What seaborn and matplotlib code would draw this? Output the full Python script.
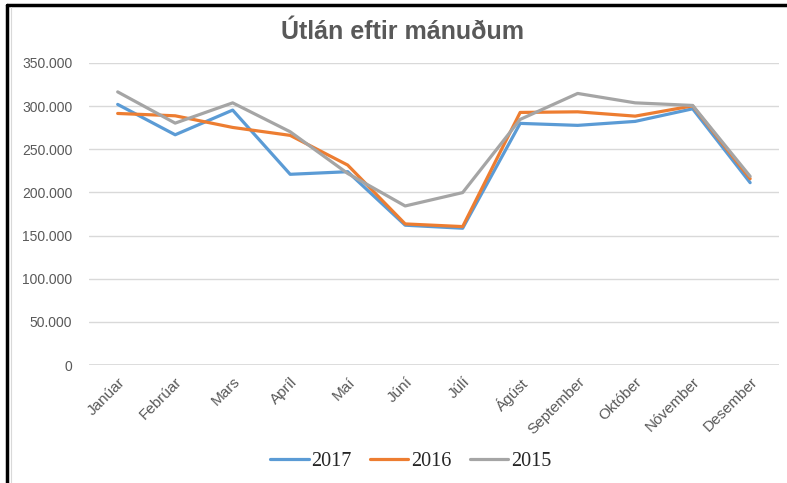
import matplotlib.pyplot as plt
import matplotlib.ticker as mticker
from matplotlib.lines import Line2D
import seaborn as sns
import pandas as pd

manudir = ["Janúar", "Febrúar", "Mars", "Apríl", "Maí", "Júní", "Júlí",
           "Ágúst", "September", "Október", "Nóvember", "Desember"]
ar2017 = [302000, 266800, 295400, 221000, 224000, 162000, 158500,
          280000, 277700, 282300, 296900, 211300]
ar2016 = [291500, 288800, 275300, 266100, 231700, 163500, 160400,
          292700, 293400, 288400, 300300, 215900]
ar2015 = [316500, 280300, 303800, 270300, 222000, 184300, 199800,
          284600, 314700, 303800, 300800, 218600]
ar = ["2017", "2016", "2015"]
litir = ["#5B9BD5", "#ED7D31", "#A5A5A5"]

df = pd.DataFrame({
    "manudur": manudir * 3,
    "nr": list(range(12)) * 3,
    "utlan": ar2017 + ar2016 + ar2015,
    "ar": ["2017"] * 12 + ["2016"] * 12 + ["2015"] * 12,
})

sns.set_theme(style="white")
plt.rcParams["font.family"] = ["Liberation Sans", "DejaVu Sans"]
fig = plt.figure(figsize=(7.87, 4.83), dpi=100)
ax = fig.add_axes([0.113, 0.2443, 0.8767, 0.6253])

sns.lineplot(data=df, x="nr", y="utlan", hue="ar", hue_order=ar,
             palette=litir, linewidth=2.3, ax=ax, legend=False)

ax.set_xlim(-0.5, 11.5)
ax.set_ylim(0, 350000)
ax.set_yticks(range(0, 350001, 50000))
ax.yaxis.set_major_formatter(mticker.FuncFormatter(
    lambda v, p: "0" if v == 0 else f"{int(v):,}".replace(",", ".")))
ax.set_xticks(range(12))
ax.set_xticklabels(manudir, rotation=45, ha="right", rotation_mode="anchor")
ax.tick_params(axis="both", colors="#595959", labelsize=10, length=0)
ax.tick_params(axis="x", labelsize=11, pad=7)
ax.tick_params(axis="y", pad=12)
ax.grid(axis="y", color="#D9D9D9", linewidth=1)
ax.set_xlabel("")
ax.set_ylabel("")
for s in ax.spines.values():
    s.set_visible(False)
ax.axhline(0, color="#D9D9D9", linewidth=1.2, zorder=0)

fig.text(0.512, 0.934, "Útlán eftir mánuðum", ha="center", va="center",
         fontsize=18, fontweight="bold", color="#595959")

handles = [Line2D([], [], color=c, linewidth=2.3) for c in litir]
fig.legend(handles, ar, loc="center", bbox_to_anchor=(0.522, 0.045), ncol=3,
           frameon=False, handlelength=1.9, handletextpad=0.15, columnspacing=0.9,
           prop={"family": "Liberation Serif", "size": 14.5})

# ramminn
fig.add_artist(Line2D([0.009, 1.0], [0.99, 0.99], color="black", linewidth=2.5,
                      transform=fig.transFigure))
fig.add_artist(Line2D([0.009, 0.009], [0.0, 0.99], color="black", linewidth=2.5,
                      transform=fig.transFigure))
fig.add_artist(Line2D([0.0135, 0.0135], [0.0, 0.985], color="#D9D9D9", linewidth=0.8,
                      transform=fig.transFigure))

fig.savefig("out.png", dpi=100)
